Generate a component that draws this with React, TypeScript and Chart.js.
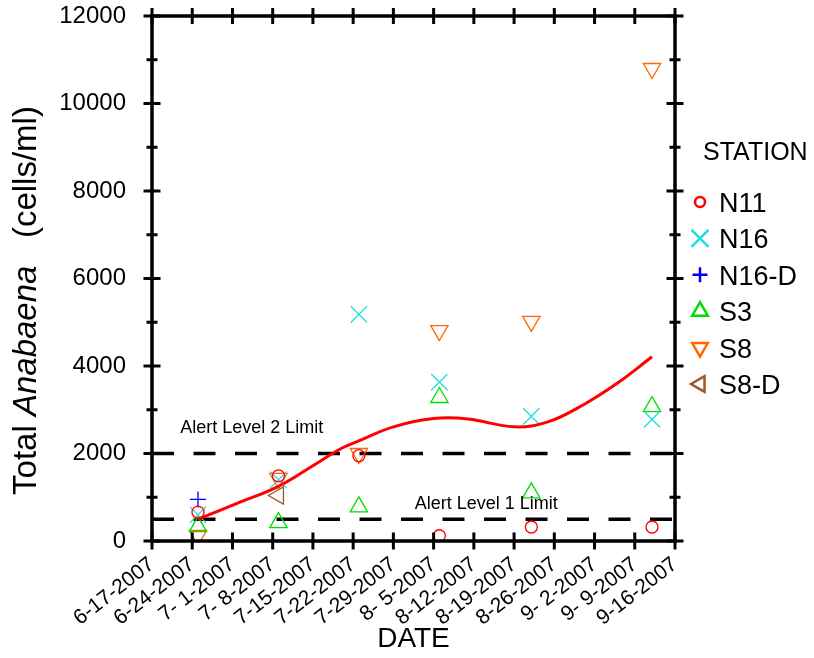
import React, { useEffect, useRef } from 'react';
import { Chart, registerables } from 'chart.js';
import { drawPoint } from 'chart.js/helpers';

Chart.register(...registerables);

// ---------- data ----------
const startDate = '2007-06-17';
const endDate = '2007-09-16';

const axisTickDates = [
  '2007-06-17', '2007-06-24', '2007-07-01', '2007-07-08', '2007-07-15', '2007-07-22', '2007-07-29',
  '2007-08-05', '2007-08-12', '2007-08-19', '2007-08-26', '2007-09-02', '2007-09-09', '2007-09-16',
];
const axisTickLabels = [
  '6-17-2007', '6-24-2007', '7- 1-2007', '7- 8-2007', '7-15-2007', '7-22-2007', '7-29-2007',
  '8- 5-2007', '8-12-2007', '8-19-2007', '8-26-2007', '9- 2-2007', '9- 9-2007', '9-16-2007',
];

const sampleDates = ['2007-06-25', '2007-07-09', '2007-07-23', '2007-08-06', '2007-08-22', '2007-09-12'];
const stationN11 = [660, 1490, 1950, 120, 320, 320];
const stationN16 = [600, 1400, 5180, 3630, 2850, 2780];
const stationN16D = [950, null, null, null, null, null];
const stationS3 = [330, 420, 780, 3280, 1100, 3070];
const stationS8 = [130, 1430, 2000, 4810, 5020, 10800];
const stationS8D = [null, 1040, null, null, null, null];

const curveDates = [
  '2007-06-25', '2007-07-02', '2007-07-09', '2007-07-15', '2007-07-20', '2007-07-23', '2007-07-29',
  '2007-08-05', '2007-08-11', '2007-08-19', '2007-08-25', '2007-08-31', '2007-09-06', '2007-09-12',
];
const curveValues = [500, 870, 1250, 1720, 2120, 2290, 2610, 2800, 2790, 2610, 2730, 3110, 3610, 4210];

const alertLevel1 = 500;
const alertLevel2 = 2000;
const alertLabels = ['Alert Level 1 Limit', 'Alert Level 2 Limit'];

const yMin = 0;
const yMax = 12000;
const yMajorStep = 2000;
const yMinorStep = 1000;

const stationLabels = ['N11', 'N16', 'N16-D', 'S3', 'S8', 'S8-D'];
const stationValues = [stationN11, stationN16, stationN16D, stationS3, stationS8, stationS8D];

// ---------- styles ----------
const FONT = '"Liberation Sans", Arial, Helvetica, sans-serif';
const stationStyles = [
  { color: '#ff0000', pointStyle: 'circle', rotation: 0, radius: 6, legendRadius: 5 },
  { color: '#22dddd', pointStyle: 'crossRot', rotation: 0, radius: 11.5, legendRadius: 12 },
  { color: '#0000ff', pointStyle: 'cross', rotation: 0, radius: 8, legendRadius: 7.5 },
  { color: '#00dd00', pointStyle: 'triangle', rotation: 0, radius: 10, legendRadius: 9 },
  { color: '#ff6600', pointStyle: 'triangle', rotation: 180, radius: 10, legendRadius: 9 },
  { color: '#a0561e', pointStyle: 'triangle', rotation: -90, radius: 10, legendRadius: 9 },
];

function dayIndex(s: string): number {
  const [y, m, d] = s.split('-').map(Number);
  const [y0, m0, d0] = startDate.split('-').map(Number);
  return (Date.UTC(y, m - 1, d) - Date.UTC(y0, m0 - 1, d0)) / 86400000;
}

function seg(ctx: CanvasRenderingContext2D, x1: number, y1: number, x2: number, y2: number) {
  ctx.beginPath();
  ctx.moveTo(x1, y1);
  ctx.lineTo(x2, y2);
  ctx.stroke();
}

const framePlugin = {
  id: 'frameAndTicks',
  afterDatasetsDraw(chart: any) {
    const { ctx, chartArea, scales } = chart;
    const { left, right, top, bottom } = chartArea;
    const x = scales.x;
    const y = scales.y;
    ctx.save();
    ctx.strokeStyle = '#000';
    ctx.lineCap = 'butt';
    ctx.lineWidth = 3;
    axisTickDates.forEach((d) => {
      const px = x.getPixelForValue(dayIndex(d));
      seg(ctx, px, bottom - 8.5, px, bottom + 8.5);
      seg(ctx, px, top - 8, px, top + 8);
    });
    for (let v = yMin; v <= yMax; v += yMinorStep) {
      const py = y.getPixelForValue(v);
      const len = v % yMajorStep === 0 ? 8.5 : 5.5;
      seg(ctx, left - len, py, left + len, py);
      seg(ctx, right - len, py, right + len, py);
    }
    ctx.lineWidth = 3.5;
    ctx.strokeRect(left, top, right - left, bottom - top);

    // alert labels
    ctx.fillStyle = '#000';
    ctx.font = `18px ${FONT}`;
    ctx.textAlign = 'left';
    ctx.textBaseline = 'alphabetic';
    ctx.fillText(alertLabels[1], x.getPixelForValue(4.9), y.getPixelForValue(2470));
    ctx.fillText(alertLabels[0], x.getPixelForValue(45.7), y.getPixelForValue(740));
    ctx.restore();
  },
  afterDraw(chart: any) {
    const { ctx, chartArea } = chart;
    ctx.save();
    // y axis title with italic genus name
    const parts = [
      { t: 'Total ', f: `33px ${FONT}` },
      { t: 'Anabaena', f: `italic 33px ${FONT}` },
      { t: '   (cells/ml)', f: `33px ${FONT}` },
    ];
    let total = 0;
    parts.forEach((p) => {
      ctx.font = p.f;
      total += ctx.measureText(p.t).width;
    });
    const cy = (chartArea.top + chartArea.bottom) / 2 + 22;
    ctx.translate(36, cy);
    ctx.rotate(-Math.PI / 2);
    ctx.fillStyle = '#000';
    ctx.textBaseline = 'alphabetic';
    ctx.textAlign = 'left';
    let cx = -total / 2;
    parts.forEach((p) => {
      ctx.font = p.f;
      ctx.fillText(p.t, cx, 0);
      cx += ctx.measureText(p.t).width;
    });
    ctx.restore();

    // legend
    ctx.save();
    const lx = chartArea.right + 25;
    ctx.fillStyle = '#000';
    ctx.font = `25px ${FONT}`;
    ctx.textAlign = 'left';
    ctx.textBaseline = 'alphabetic';
    ctx.fillText('STATION', chartArea.right + 28, 160);
    stationLabels.forEach((label, i) => {
      const st = stationStyles[i];
      const py = 202 + i * 36.4;
      ctx.strokeStyle = st.color;
      ctx.fillStyle = 'rgba(0,0,0,0)';
      ctx.lineWidth = 2.5;
      drawPoint(ctx, { pointStyle: st.pointStyle, rotation: st.rotation, radius: st.legendRadius, borderWidth: 2.5 } as any, lx, py);
      ctx.fillStyle = '#000';
      ctx.font = `27px ${FONT}`;
      ctx.fillText(label, lx + 19, py + 10);
    });
    ctx.restore();
  },
};

export default function App() {
  const canvasRef = useRef<HTMLCanvasElement | null>(null);

  useEffect(() => {
    document.body.style.margin = '0';
    document.body.style.overflow = 'hidden';
    const canvas = canvasRef.current;
    if (!canvas) return;

    const x0 = dayIndex(startDate);
    const x1 = dayIndex(endDate);

    const stationDatasets = stationLabels.map((label, i) => {
      const st = stationStyles[i];
      const pts = sampleDates
        .map((d, j) => (stationValues[i][j] == null ? null : { x: dayIndex(d), y: stationValues[i][j] as number }))
        .filter((p) => p !== null);
      return {
        label,
        data: pts,
        showLine: false,
        pointStyle: st.pointStyle,
        rotation: st.rotation,
        pointRadius: st.radius,
        pointHoverRadius: st.radius,
        borderColor: st.color,
        backgroundColor: 'rgba(0,0,0,0)',
        pointBorderWidth: 1.3,
        order: 2,
      };
    });

    const curve = {
      label: 'trend',
      data: curveDates.map((d, i) => ({ x: dayIndex(d), y: curveValues[i] })),
      showLine: true,
      borderColor: '#ff0000',
      borderWidth: 3,
      pointRadius: 0,
      tension: 0.4,
      order: 1,
    };

    const alertLine = (v: number, name: string) => ({
      label: name,
      data: [{ x: x0, y: v }, { x: x1, y: v }],
      showLine: true,
      borderColor: '#000',
      borderWidth: 3.5,
      borderDash: [22, 19.5],
      pointRadius: 0,
      order: 3,
    });

    const chart = new Chart(canvas, {
      type: 'scatter',
      data: {
        datasets: [curve, ...stationDatasets, alertLine(alertLevel2, 'level2'), alertLine(alertLevel1, 'level1')] as any,
      },
      options: {
        animation: false,
        responsive: false,
        devicePixelRatio: 1,
        layout: { padding: { left: 0, right: 139, top: 16, bottom: 0 } },
        plugins: { legend: { display: false }, tooltip: { enabled: false } },
        scales: {
          x: {
            type: 'linear',
            min: x0,
            max: x1,
            afterBuildTicks: (scale: any) => {
              scale.ticks = axisTickDates.map((d) => ({ value: dayIndex(d) }));
            },
            afterFit: (scale: any) => {
              scale.height = 117;
            },
            grid: { display: false, drawTicks: false },
            border: { display: false },
            ticks: {
              autoSkip: false,
              minRotation: 38,
              maxRotation: 38,
              padding: 11,
              color: '#000',
              font: { family: FONT, size: 21 },
              callback: (value: any) => {
                const idx = axisTickDates.findIndex((d) => dayIndex(d) === value);
                return idx >= 0 ? axisTickLabels[idx] : '';
              },
            },
            title: {
              display: true,
              text: 'DATE',
              color: '#000',
              font: { family: FONT, size: 28 },
              padding: { top: 0, bottom: 2 },
            },
          },
          y: {
            type: 'linear',
            min: yMin,
            max: yMax,
            afterFit: (scale: any) => {
              scale.width = 152;
              scale.paddingTop = 0;
              scale.paddingBottom = 0;
            },
            grid: { display: false, drawTicks: false },
            border: { display: false },
            ticks: {
              stepSize: yMajorStep,
              padding: 26,
              color: '#000',
              font: { family: FONT, size: 24 },
              callback: (value: any) => String(value),
            },
          },
        },
      },
      plugins: [framePlugin],
    });

    return () => chart.destroy();
  }, []);

  return (
    <div style={{ width: 814, height: 658 }}>
      <canvas ref={canvasRef} width={814} height={658} style={{ display: 'block' }} />
    </div>
  );
}
